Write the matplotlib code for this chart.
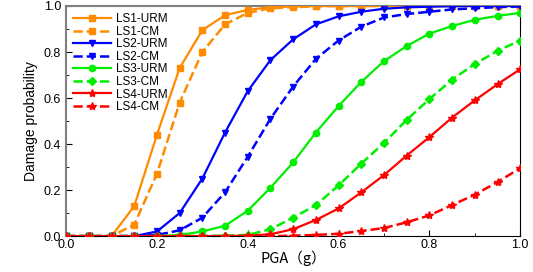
import matplotlib
matplotlib.use('Agg')
import matplotlib.pyplot as plt
from matplotlib.ticker import MultipleLocator, FormatStrFormatter

pga = [0.0, 0.05, 0.1, 0.15, 0.2, 0.25, 0.3, 0.35, 0.4, 0.45, 0.5,
       0.55, 0.6, 0.65, 0.7, 0.75, 0.8, 0.85, 0.9, 0.95, 1.0]

ls1_urm = [0, 0, 0, 0.13, 0.44, 0.73, 0.895, 0.96, 0.983, 0.995, 0.998,
           1, 1, 1, 1, 1, 1, 1, 1, 1, 1]
ls1_cm = [0, 0, 0, 0.05, 0.27, 0.58, 0.80, 0.92, 0.97, 0.99, 0.995,
          0.998, 1, 1, 1, 1, 1, 1, 1, 1, 1]
ls2_urm = [0, 0, 0, 0, 0.02, 0.10, 0.25, 0.45, 0.63, 0.765, 0.855,
           0.92, 0.955, 0.975, 0.988, 0.994, 0.997, 0.999, 1, 1, 1]
ls2_cm = [0, 0, 0, 0, 0.005, 0.025, 0.08, 0.19, 0.345, 0.51, 0.65,
          0.77, 0.85, 0.91, 0.95, 0.965, 0.975, 0.985, 0.99, 0.995, 0.998]
ls3_urm = [0, 0, 0, 0, 0, 0.005, 0.02, 0.045, 0.11, 0.21, 0.32,
           0.45, 0.565, 0.67, 0.76, 0.826, 0.88, 0.913, 0.94, 0.957, 0.97]
ls3_cm = [0, 0, 0, 0, 0, 0, 0, 0.002, 0.005, 0.03, 0.08,
          0.135, 0.22, 0.315, 0.405, 0.505, 0.595, 0.68, 0.748, 0.805, 0.85]
ls4_urm = [0, 0, 0, 0, 0, 0, 0, 0, 0.002, 0.008, 0.03,
           0.07, 0.12, 0.19, 0.265, 0.35, 0.43, 0.515, 0.59, 0.66, 0.725]
ls4_cm = [0, 0, 0, 0, 0, 0, 0, 0, 0, 0, 0.002,
          0.005, 0.01, 0.022, 0.035, 0.06, 0.09, 0.135, 0.18, 0.235, 0.295]

series = [
    ("LS1-URM", ls1_urm, "#FF8C00", "-", "s"),
    ("LS1-CM", ls1_cm, "#FF8C00", "--", "s"),
    ("LS2-URM", ls2_urm, "#0000FF", "-", "v"),
    ("LS2-CM", ls2_cm, "#0000FF", "--", "v"),
    ("LS3-URM", ls3_urm, "#00EE00", "-", "o"),
    ("LS3-CM", ls3_cm, "#00EE00", "--", "D"),
    ("LS4-URM", ls4_urm, "#FF0000", "-", "*"),
    ("LS4-CM", ls4_cm, "#FF0000", "--", "*"),
]

plt.rcParams['font.family'] = ['Liberation Sans', 'DejaVu Sans']

fig = plt.figure(figsize=(5.33, 2.72), dpi=100)
ax = fig.add_axes([0.124, 0.132, 0.852, 0.846])

for name, vals, col, ls, mk in series:
    lw = 1.6 if ls == "-" else 1.8
    ms = 6 if mk == "*" else 4.5
    ax.plot(pga, vals, color=col, linestyle=ls, marker=mk, markersize=ms,
            linewidth=lw, label=name, zorder=3)

ax.set_xlim(0, 1.0)
ax.set_ylim(0, 1.0)
ax.xaxis.set_major_locator(MultipleLocator(0.2))
ax.xaxis.set_minor_locator(MultipleLocator(0.1))
ax.yaxis.set_major_locator(MultipleLocator(0.2))
ax.yaxis.set_minor_locator(MultipleLocator(0.1))
ax.tick_params(which='both', direction='in', labelsize=9)
ax.tick_params(which='major', length=4)
ax.tick_params(which='minor', length=2.5)
ax.tick_params(axis='x', pad=2)
ax.xaxis.set_major_formatter(FormatStrFormatter('%.1f'))
ax.yaxis.set_major_formatter(FormatStrFormatter('%.1f'))

for s in ['left', 'top']:
    ax.spines[s].set_color('#808080')
    ax.spines[s].set_linewidth(1.5)

ax.set_xlabel("PGA（g）", fontsize=10.5, labelpad=0,
              family=['Noto Sans CJK SC', 'DejaVu Sans'])
ax.set_ylabel("Damage probability", fontsize=10, fontstretch='condensed')

ax.legend(loc='upper left', frameon=False, fontsize=8.5, handlelength=3.2,
          labelspacing=0.05, borderaxespad=0.2, handletextpad=0.4)

fig.savefig("out.png", dpi=100)
